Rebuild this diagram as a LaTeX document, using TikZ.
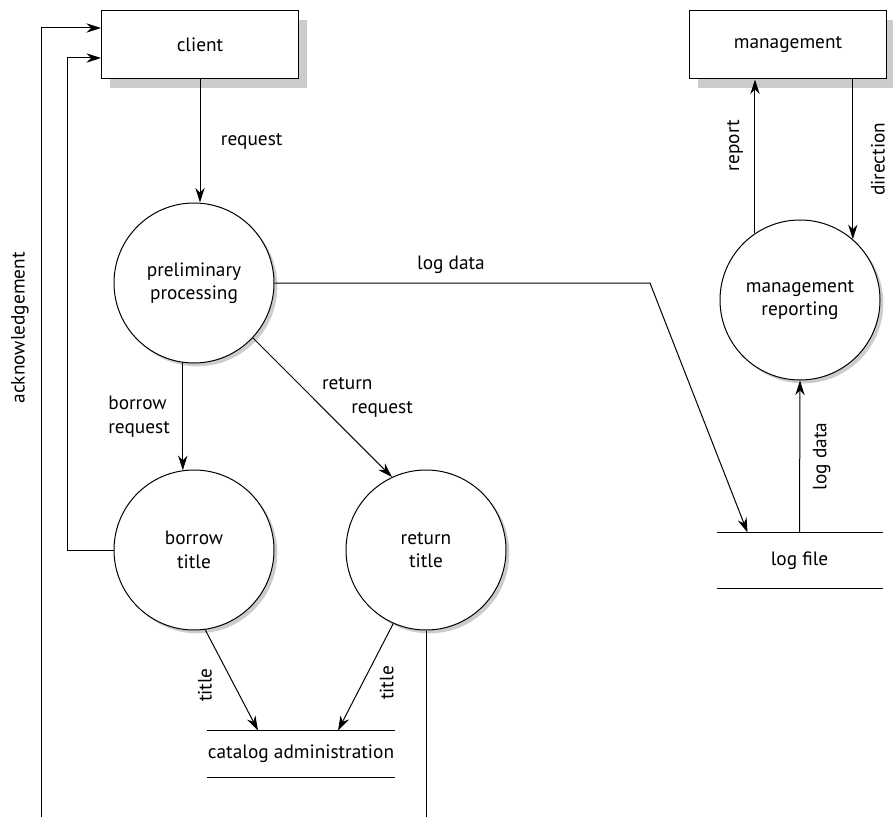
\documentclass[tikz,border=0pt]{standalone}
\usepackage{fontspec}
\setmainfont{PT Sans}
\usetikzlibrary{positioning,arrows.meta}
\definecolor{ShadowGray}{RGB}{204,204,204}

\begin{document}
\begin{tikzpicture}[
    x=0.75pt, y=-0.75pt,
    font=\fontsize{14.5}{17.5}\selectfont,
    >={Stealth[length=11pt,width=7pt]},
    line width=0.75pt,
    entity/.style={
        draw,
        fill=white,
        minimum width=147.75pt,
        minimum height=51pt,
        preaction={fill=ShadowGray, draw=none, transform canvas={xshift=6pt, yshift=-6.75pt}}
    },
    process/.style={
        draw,
        circle,
        fill=white,
        align=center,
        inner sep=0pt,
        minimum size=120pt,
        preaction={fill=ShadowGray, draw=none, transform canvas={xshift=2.5pt, yshift=-2.5pt}}
    },
    store/.style={inner sep=0pt},
    flow/.style={->}
]
\useasboundingbox (0,0) rectangle (893,817);

\node[entity] (client) at (200,45) {client};
\node[entity] (mgmt) at (788,45) {management};

\node[process] (prelim) at (194,283) {preliminary\\processing};
\node[process] (borrow) at (194,550) {borrow\\title};
\node[process] (ret) at (426,550) {return\\title};
\node[process] (mrep) at (800,300) {management\\reporting};

\node[store, minimum width=123.75pt, minimum height=41.25pt] (logfile) at (799.5,560.5) {log file};
\node[store, minimum width=138pt, minimum height=34.5pt] (catalog) at (301,754) {catalog administration};
\draw (logfile.north west) -- (logfile.north east) (logfile.south west) -- (logfile.south east);
\draw (catalog.north west) -- (catalog.north east) (catalog.south west) -- (catalog.south east);

\coordinate (ackfoot) at (41,817);
\coordinate (retfoot) at (426,817);
\coordinate (bend) at (650,283);

% client side
\draw[flow] (client.south) -- (client.south |- prelim.north) node[midway, right=12pt] {request};
\draw[flow] (ackfoot) |- ([yshift=12.75pt]client.west) node[pos=0.31, xshift=-15.75pt, rotate=90] {acknowledgement};
\draw[flow] (borrow.west) -- ++(-46,0) |- ([yshift=-9.75pt]client.west);

\draw[flow] (prelim.262) -- (borrow.98) node[midway, left=6pt, align=left] {borrow\\request};
\draw[flow] (prelim.-43) -- (ret.115) node[midway, anchor=west, xshift=-4pt, yshift=7.5pt, align=left] {return\\\hspace*{22pt}request};
\draw[flow] (prelim.east) -- node[pos=0.47, above=3pt] {log data} (bend) -- ([xshift=-39pt]logfile.north);

\draw[flow] (borrow.-82) -- ([xshift=-32.25pt]catalog.north) node[midway, xshift=-20pt, yshift=-3.75pt, rotate=90] {title};
\draw[flow] (ret.246) -- ([xshift=27.75pt]catalog.north) node[midway, xshift=15.75pt, yshift=-4.5pt, rotate=90] {title};
\draw (ret.south) -- (retfoot);

% management side
\draw[flow] (logfile.north) -- (mrep.south) node[midway, xshift=16.5pt, rotate=90] {log data};
\draw[flow] (mrep.124) -- (mrep.124 |- mgmt.south) node[midway, xshift=-15pt, yshift=8pt, rotate=90] {report};
\draw[flow] (mgmt.south -| mrep.49.5) -- (mrep.49.5) node[midway, xshift=18.75pt, rotate=90] {direction};

\end{tikzpicture}
\end{document}
